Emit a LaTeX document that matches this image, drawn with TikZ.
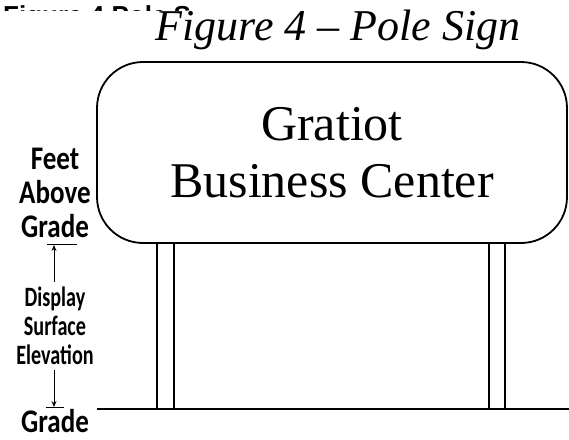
\documentclass[tikz,border=0pt]{standalone}
\usepackage{fontspec}
\setmainfont{Liberation Serif}
\newfontfamily\lblfont{Carlito}
\newfontfamily\headfont{Liberation Sans}
\usetikzlibrary{arrows.meta}
\tikzset{
  signline/.style={line width=1.8pt},
  postline/.style={line width=1.4pt},
  lbltop/.style={font=\lblfont\bfseries\fontsize{33}{34}\selectfont, align=center, inner sep=0pt, xscale=0.82},
  lbllow/.style={font=\lblfont\bfseries\fontsize{28}{29}\selectfont, align=center, inner sep=0pt, xscale=0.72},
  uparrow/.style={-{Stealth[length=6pt,width=5pt]}, line width=0.9pt}
}
\begin{document}
\begin{tikzpicture}[x=1pt,y=-1pt]
		%%%%% START %%%%%
		\fill[white] (0,0) rectangle (569,439);
		\useasboundingbox (0,0) rectangle (569,439);
		
		\begin{scope}
		\clip (0,0) rectangle (190,10);
		\node[anchor=base west, inner sep=0pt, font=\headfont\bfseries\fontsize{26}{26}\selectfont] (head) at (3,24) {Figure 4 Pole Sign};
		\end{scope}
		
		\node[anchor=base, inner sep=0pt, font=\itshape\fontsize{44}{44}\selectfont] (title) at (338,40) {Figure 4 -- Pole Sign};
		
		\draw[signline, rounded corners=46pt] (97,62) rectangle (567,243);
		\node[anchor=base, inner sep=0pt, font=\fontsize{50}{57}\selectfont] (gratiot) at (332,140) {Gratiot};
		\node[anchor=base, inner sep=0pt, font=\fontsize{50}{57}\selectfont] (business) at (332,197) {Business Center};
		
		\draw[postline] (157,243) rectangle (174,409);
		\draw[postline] (489,243) rectangle (505,409);
		\draw[postline] (97,409) -- (569,409);
		
		\node[lbltop, anchor=north] (feet) at (55,148) {Feet\\Above\\Grade};
		\draw[line width=0.9pt] (47,244) -- (77,244);
		\node[lbllow, anchor=north] (display) at (55,287) {Display\\Surface\\Elevation};
		\coordinate (uptail) at (54,282);
		\coordinate (uphead) at (54,245);
		\draw[uparrow] (uptail) -- (uphead);
		\coordinate (downtail) at (54,370);
		\coordinate (downhead) at (54,407);
		\draw[uparrow] (downtail) -- (downhead);
		\draw[line width=0.9pt] (46,407) -- (64,407);
		\node[lbltop, anchor=base] (grade) at (55,432) {Grade};
		
		%%%%% END %%%%%
\end{tikzpicture}
\end{document}
